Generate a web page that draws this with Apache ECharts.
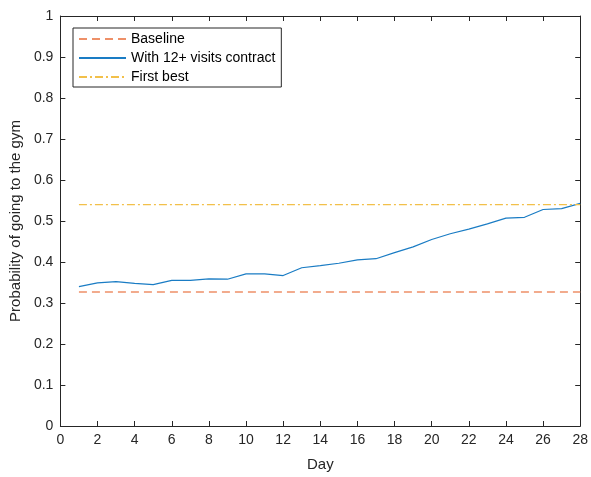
<!DOCTYPE html>
<html>
<head>
<meta charset="utf-8">
<script src="https://cdn.jsdelivr.net/npm/echarts@6/dist/echarts.min.js"></script>
<style>
	html, body { margin: 0; padding: 0; background: #fff; }
	#main { width: 591px; height: 477px; }
</style>
</head>
<body>
<div id="main"></div>
<script>
var days = [1, 2, 3, 4, 5, 6, 7, 8, 9, 10, 11, 12, 13, 14, 15, 16, 17, 18, 19, 20, 21, 22, 23, 24, 25, 26, 27, 28];
var contract = [0.340, 0.349, 0.352, 0.348, 0.345, 0.355, 0.355, 0.359, 0.358, 0.371, 0.371, 0.367, 0.386, 0.391,
	0.397, 0.405, 0.408, 0.423, 0.437, 0.455, 0.469, 0.480, 0.493, 0.507, 0.509, 0.528, 0.530, 0.543];
var baseline = [0.327, 0.327];
var firstBest = [0.540, 0.540];
var flatDays = [1, 28];

var fontName = 'Liberation Sans';
var axisColor = '#262626';

function pairs(xs, ys) {
	var out = [];
	for (var i = 0; i < xs.length; i++) {
		out.push([xs[i], ys[i]]);
	}
	return out;
}

var boxAxis = {
	axisLine : { show : true, onZero : false, lineStyle : { color : axisColor, width : 1 } },
	axisTick : { show : true, inside : true, length : 5, lineStyle : { color : axisColor } },
	splitLine : { show : false }
};

var chart = echarts.init(document.getElementById('main'));
var option = {
	animation : false,
	textStyle : { fontFamily : fontName },
	grid : { left : 60, right : 10, top : 16, bottom : 50 },
	legend : {
		orient : 'vertical',
		left : 73,
		top : 28,
		itemWidth : 47,
		itemHeight : 10,
		itemGap : 5,
		padding : [4, 6, 3, 5],
		borderColor : axisColor,
		borderWidth : 1,
		itemStyle : { opacity : 0 },
		textStyle : { fontSize : 14, color : '#000', fontFamily : fontName },
		data : ['Baseline', 'With 12+ visits contract', 'First best']
	},
	xAxis : [ Object.assign({
		type : 'value', min : 0, max : 28, interval : 2,
		name : 'Day', nameLocation : 'middle', nameGap : 31,
		nameTextStyle : { fontSize : 15, color : '#262626' },
		axisLabel : { fontSize : 14, color : '#262626', margin : 7 }
	}, boxAxis), Object.assign({
		type : 'value', min : 0, max : 28, interval : 2, position : 'top',
		axisLabel : { show : false }
	}, boxAxis) ],
	yAxis : [ Object.assign({
		type : 'value', min : 0, max : 1, interval : 0.1,
		name : 'Probability of going to the gym', nameLocation : 'middle', nameGap : 34,
		nameTextStyle : { fontSize : 15, color : '#262626' },
		axisLabel : { fontSize : 14, color : '#262626', margin : 7 }
	}, boxAxis), Object.assign({
		type : 'value', min : 0, max : 1, interval : 0.1, position : 'right',
		axisLabel : { show : false }
	}, boxAxis) ],
	series : [ {
		name : 'Baseline',
		type : 'line',
		symbol : 'none',
		data : pairs(flatDays, baseline),
		itemStyle : { color : '#EE9068' },
		lineStyle : { color : '#EE9068', width : 1.5, type : [8, 5] }
	}, {
		name : 'With 12+ visits contract',
		type : 'line',
		symbol : 'none',
		data : pairs(days, contract),
		itemStyle : { color : '#1A7CC4' },
		lineStyle : { color : '#1A7CC4', width : 1.2 }
	}, {
		name : 'First best',
		type : 'line',
		symbol : 'none',
		data : pairs(flatDays, firstBest),
		itemStyle : { color : '#F2C04A' },
		lineStyle : { color : '#F2C04A', width : 1.3, type : [8, 3, 2, 3] }
	} ]
};
chart.setOption(option, true);
</script>
</body>
</html>
